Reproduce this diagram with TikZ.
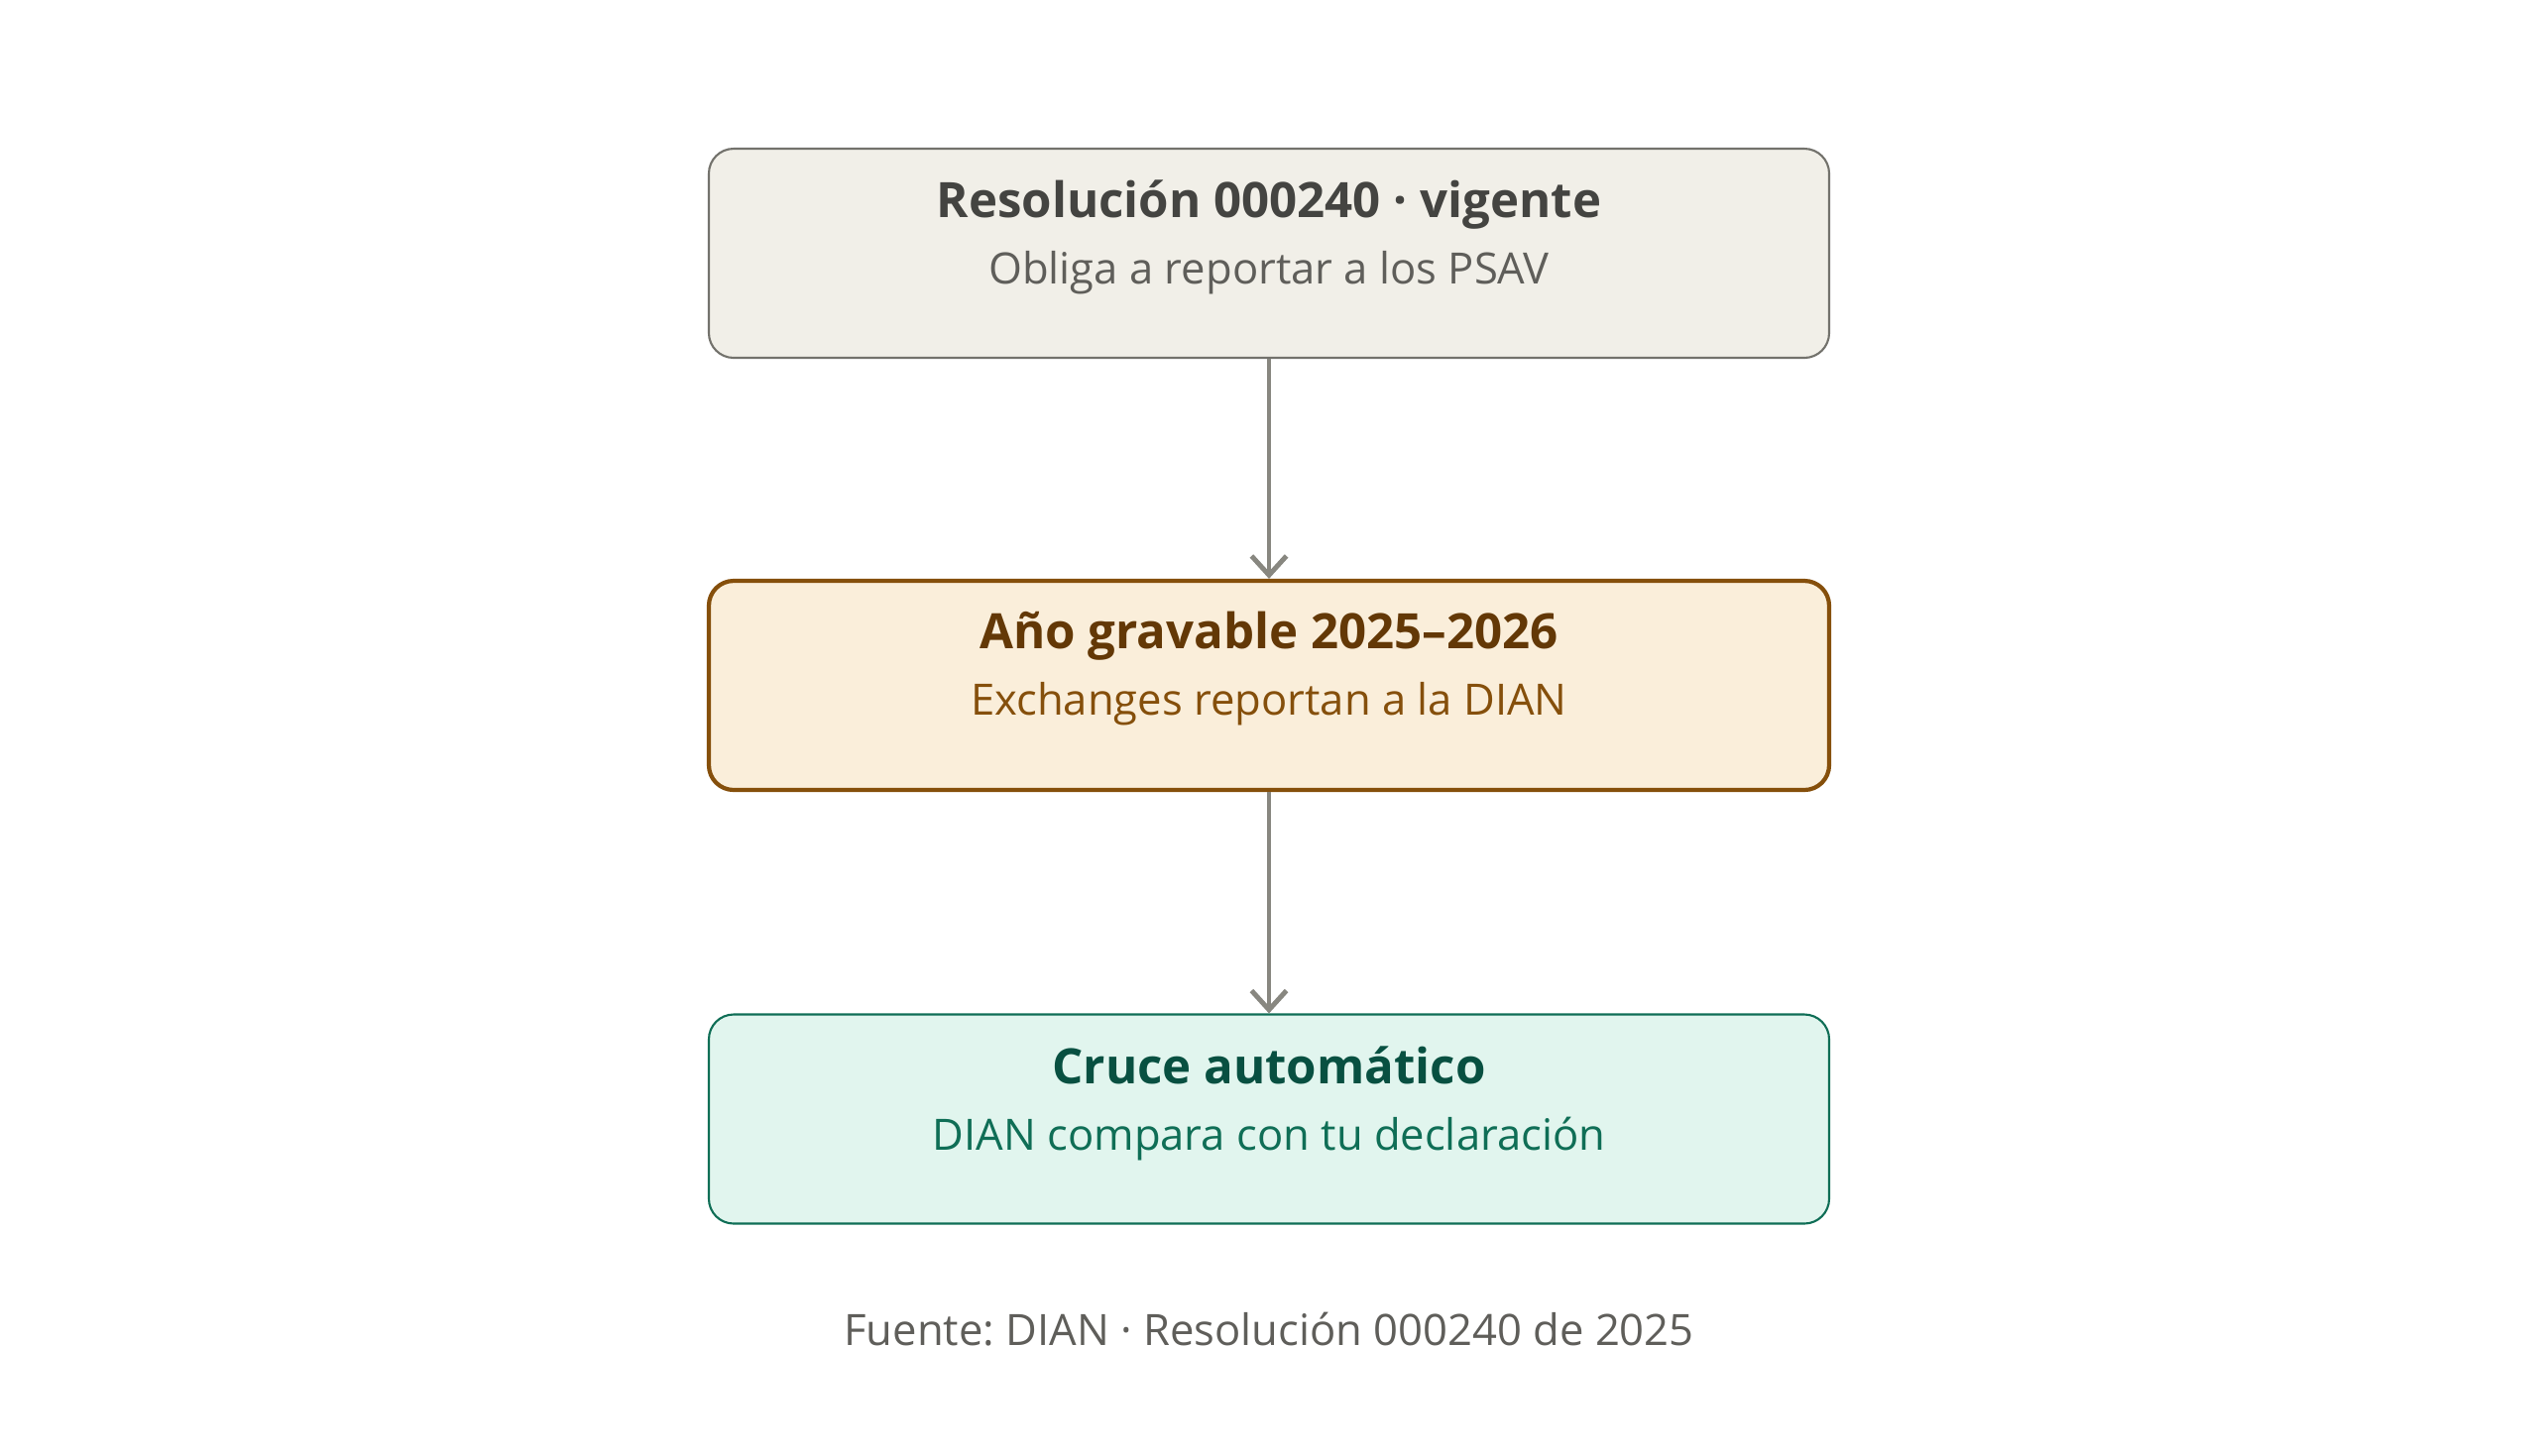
\documentclass[tikz,border=0pt]{standalone}
\usepackage{fontspec}
\setmainfont{Open Sans}
\usetikzlibrary{arrows.meta}
\usetikzlibrary{positioning}
\definecolor{grisfondo}{HTML}{F1EFE8}
\definecolor{grisborde}{HTML}{73726C}
\definecolor{gristit}{HTML}{444441}
\definecolor{grissub}{HTML}{5F5E5A}
\definecolor{ambarfondo}{HTML}{FAEEDA}
\definecolor{ambarborde}{HTML}{854F0B}
\definecolor{ambartit}{HTML}{633806}
\definecolor{verdefondo}{HTML}{E1F5EE}
\definecolor{verdeborde}{HTML}{0F6E56}
\definecolor{verdetit}{HTML}{085041}
\definecolor{flecha}{HTML}{888780}
\frenchspacing
\tikzset{
caja/.style={shape=rectangle, rounded corners=0.25cm, minimum width=11.3cm, minimum height=2.11cm, inner sep=0pt},
titulo/.style={anchor=base, font=\fontsize{14}{17}\selectfont\bfseries},
subtitulo/.style={anchor=base, font=\fontsize{12.4}{15}\selectfont},
flujo/.style={draw=flecha, line width=1.4pt, -{Straight Barb[length=5.5pt,width=10pt,line width=1.4pt]}}}

\begin{document}
\begin{tikzpicture}
            \useasboundingbox (0,0) rectangle (25.6,-14.68);

                \node[caja, draw=grisborde, line width=0.6pt, fill=grisfondo] (res) at (12.8,-2.555) {};
                \node[caja, draw=ambarborde, line width=1.2pt, fill=ambarfondo] (ano) at (12.8,-6.915) {};
                \node[caja, draw=verdeborde, line width=0.6pt, fill=verdefondo] (cruce) at (12.8,-11.29) {};

                \node[titulo, text=gristit] (resT) at ([yshift=-0.71cm]res.north) {Resolución 000240 · vigente};
                \node[subtitulo, text=grissub] (resS) at ([yshift=-1.38cm]res.north) {Obliga a reportar a los PSAV};
                \node[titulo, text=ambartit] (anoT) at ([yshift=-0.71cm]ano.north) {Año gravable 2025–2026};
                \node[subtitulo, text=ambarborde] (anoS) at ([yshift=-1.38cm]ano.north) {Exchanges reportan a la DIAN};
                \node[titulo, text=verdetit] (cruceT) at ([yshift=-0.71cm]cruce.north) {Cruce automático};
                \node[subtitulo, text=verdeborde] (cruceS) at ([yshift=-1.38cm]cruce.north) {DIAN compara con tu declaración};

                \node[subtitulo, text=grissub] (fuente) at (12.8,-13.57) {Fuente: DIAN · Resolución 000240 de 2025};

                \draw[flujo] (res) -- (ano);
                \draw[flujo] (ano) -- (cruce);

            \end{tikzpicture}
\end{document}
